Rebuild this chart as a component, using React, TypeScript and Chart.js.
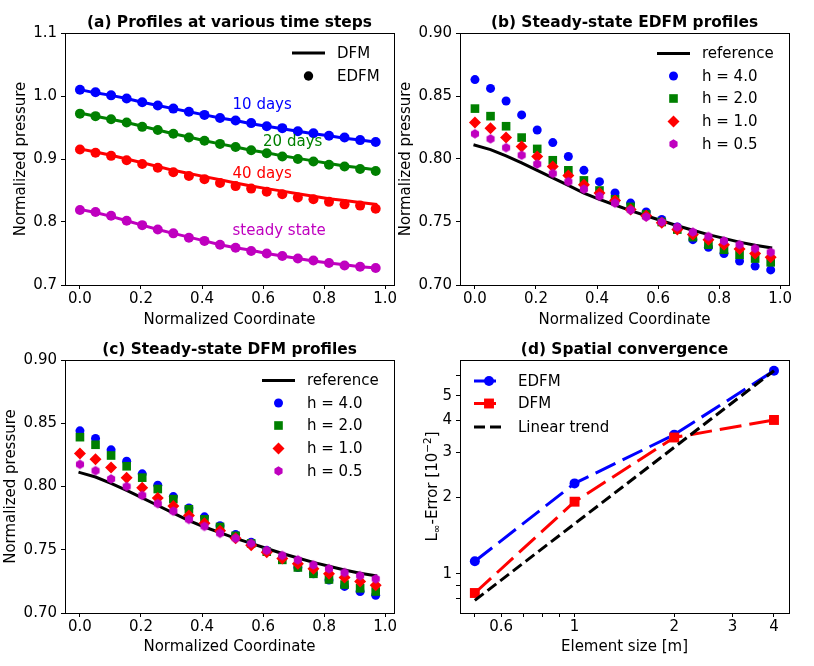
import React, { useEffect, useRef } from 'react';
import { Chart, registerables } from 'chart.js';

Chart.register(...registerables);

const FAMILY = '"DejaVu Sans", "Liberation Sans", sans-serif';
const BLUE = '#0000ff';
const GREEN = '#008000';
const RED = '#ff0000';
const MAGENTA = '#bf00bf';
const BLACK = '#000000';

// ---------- data ----------
const coordinate = [0, 0.051, 0.102, 0.153, 0.204, 0.255, 0.306, 0.357, 0.408, 0.459, 0.51, 0.561, 0.612, 0.663, 0.714, 0.765, 0.816, 0.867, 0.918, 0.969];

// (a) profiles at various time steps
const edfm10Days = [1.010, 1.006, 1.001, 0.996, 0.990, 0.985, 0.980, 0.975, 0.970, 0.965, 0.961, 0.957, 0.952, 0.949, 0.944, 0.941, 0.937, 0.934, 0.930, 0.927];
const dfm10Days = [1.010, 1.005, 1.001, 0.996, 0.990, 0.985, 0.980, 0.975, 0.970, 0.965, 0.961, 0.956, 0.952, 0.948, 0.944, 0.940, 0.937, 0.933, 0.930, 0.927];
const edfm20Days = [0.972, 0.968, 0.963, 0.958, 0.951, 0.946, 0.940, 0.934, 0.929, 0.924, 0.919, 0.914, 0.909, 0.904, 0.900, 0.896, 0.891, 0.888, 0.884, 0.881];
const dfm20Days = [0.973, 0.968, 0.963, 0.958, 0.952, 0.946, 0.940, 0.935, 0.929, 0.924, 0.919, 0.914, 0.910, 0.905, 0.901, 0.897, 0.893, 0.889, 0.886, 0.883];
const edfm40Days = [0.915, 0.910, 0.905, 0.898, 0.892, 0.886, 0.879, 0.873, 0.868, 0.862, 0.857, 0.853, 0.848, 0.844, 0.839, 0.836, 0.832, 0.828, 0.826, 0.821];
const dfm40Days = [0.916, 0.911, 0.906, 0.900, 0.894, 0.888, 0.882, 0.877, 0.872, 0.867, 0.862, 0.857, 0.853, 0.849, 0.845, 0.841, 0.837, 0.834, 0.831, 0.828];
const edfmSteady = [0.819, 0.816, 0.810, 0.802, 0.795, 0.788, 0.782, 0.775, 0.770, 0.764, 0.759, 0.754, 0.750, 0.746, 0.742, 0.739, 0.735, 0.731, 0.729, 0.727];
const dfmSteady = [0.820, 0.815, 0.809, 0.802, 0.795, 0.788, 0.782, 0.776, 0.770, 0.764, 0.759, 0.755, 0.750, 0.746, 0.742, 0.738, 0.735, 0.732, 0.729, 0.727];
const noteLabels = ['10 days', '20 days', '40 days', 'steady state'];
const noteX = [0.5, 0.6, 0.5, 0.5];
const noteY = [0.98, 0.92, 0.87, 0.78];
const noteColors = [BLUE, GREEN, RED, MAGENTA];

// (b), (c) steady-state profiles
const referenceProfile = [0.811, 0.8075, 0.8025, 0.797, 0.791, 0.785, 0.779, 0.773, 0.768, 0.7635, 0.759, 0.755, 0.751, 0.747, 0.7435, 0.740, 0.737, 0.734, 0.7315, 0.7295];
const edfmH4 = [0.863, 0.856, 0.846, 0.835, 0.823, 0.813, 0.802, 0.791, 0.782, 0.773, 0.765, 0.758, 0.752, 0.746, 0.736, 0.730, 0.725, 0.719, 0.715, 0.712];
const edfmH2 = [0.840, 0.834, 0.826, 0.817, 0.808, 0.799, 0.791, 0.783, 0.775, 0.768, 0.762, 0.756, 0.750, 0.744, 0.738, 0.732, 0.728, 0.724, 0.721, 0.718];
const edfmH1 = [0.829, 0.8245, 0.817, 0.810, 0.802, 0.794, 0.787, 0.7795, 0.773, 0.767, 0.760, 0.755, 0.7495, 0.744, 0.740, 0.736, 0.732, 0.7285, 0.725, 0.722];
const edfmH05 = [0.820, 0.816, 0.809, 0.803, 0.796, 0.7885, 0.782, 0.776, 0.7705, 0.765, 0.7595, 0.754, 0.750, 0.746, 0.742, 0.7385, 0.735, 0.732, 0.729, 0.726];
const dfmH4 = [0.844, 0.838, 0.829, 0.820, 0.810, 0.801, 0.792, 0.783, 0.776, 0.769, 0.762, 0.756, 0.7495, 0.743, 0.736, 0.731, 0.726, 0.721, 0.717, 0.714];
const dfmH2 = [0.839, 0.833, 0.8245, 0.816, 0.807, 0.798, 0.790, 0.782, 0.774, 0.768, 0.761, 0.755, 0.7485, 0.742, 0.736, 0.731, 0.7265, 0.7225, 0.7195, 0.717];
const dfmH1 = [0.826, 0.8215, 0.815, 0.807, 0.799, 0.791, 0.7845, 0.777, 0.771, 0.765, 0.759, 0.7535, 0.748, 0.743, 0.739, 0.735, 0.731, 0.728, 0.725, 0.722];
const dfmH05 = [0.8175, 0.8125, 0.806, 0.800, 0.793, 0.7865, 0.7805, 0.774, 0.7685, 0.763, 0.759, 0.755, 0.7495, 0.7455, 0.742, 0.738, 0.735, 0.732, 0.7295, 0.727];

// (d) spatial convergence
const elementSizes = [0.5, 1, 2, 4];
const edfmError = [1.118, 2.264, 3.52, 6.28];
const dfmError = [0.839, 1.918, 3.43, 4.02];
const linearTrend = [0.785, 1.57, 3.14, 6.28];

// ticks
const profileXTicks = [0, 0.2, 0.4, 0.6, 0.8, 1.0];
const panelAYTicks = [0.7, 0.8, 0.9, 1.0, 1.1];
const steadyYTicks = [0.70, 0.75, 0.80, 0.85, 0.90];
const convXTicks = [0.5, 0.6, 0.7, 0.8, 0.9, 1, 2, 3, 4];
const convXLabels = ['', '0.6', '', '', '', '1', '2', '3', '4'];
const convYTicks = [0.8, 0.9, 1, 2, 3, 4, 5, 6];
const convYLabels = ['', '', '1', '2', '3', '4', '5', ''];

// ---------- helpers ----------
const CHART_LEFT = 65;
const CHART_RIGHT = 394;
const CHART_TOP = 33;

function makeHexagon(r: number, color: string): HTMLCanvasElement {
  const c = document.createElement('canvas');
  const s = Math.ceil(2 * r + 2);
  c.width = s;
  c.height = s;
  const g = c.getContext('2d')!;
  g.fillStyle = color;
  g.beginPath();
  for (let k = 0; k < 6; k++) {
    const ang = -Math.PI / 2 + (k * Math.PI) / 3;
    const px = s / 2 + r * Math.cos(ang);
    const py = s / 2 + r * Math.sin(ang);
    if (k === 0) g.moveTo(px, py);
    else g.lineTo(px, py);
  }
  g.closePath();
  g.fill();
  return c;
}

function drawMarker(ctx: CanvasRenderingContext2D, style: string, color: string, r: number, x: number, y: number) {
  ctx.save();
  ctx.fillStyle = color;
  ctx.beginPath();
  if (style === 'circle') {
    ctx.arc(x, y, r, 0, Math.PI * 2);
  } else if (style === 'rect') {
    const s = r * Math.SQRT1_2;
    ctx.rect(x - s, y - s, 2 * s, 2 * s);
  } else if (style === 'rectRot') {
    ctx.moveTo(x, y - r);
    ctx.lineTo(x + r, y);
    ctx.lineTo(x, y + r);
    ctx.lineTo(x - r, y);
    ctx.closePath();
  } else if (style === 'hexagon') {
    for (let k = 0; k < 6; k++) {
      const ang = -Math.PI / 2 + (k * Math.PI) / 3;
      const px = x + r * Math.cos(ang);
      const py = y + r * Math.sin(ang);
      if (k === 0) ctx.moveTo(px, py);
      else ctx.lineTo(px, py);
    }
    ctx.closePath();
  }
  ctx.fill();
  ctx.restore();
}

type LegendEntry = {
  label: string;
  line?: { color: string; dash?: number[] };
  marker?: { style: string; color: string; r: number };
};

type Decor = {
  title: string;
  xTitle: string;
  yTitle: string | null;
  yTitleX: number;
  legendX0: number;
  legendX1: number;
  legendTextX: number;
  legendYs: number[];
  legend: LegendEntry[];
  notes?: boolean;
};

function drawErrorLabel(ctx: CanvasRenderingContext2D, cx: number, cy: number) {
  const parts = [
    { t: 'L', size: 15, dy: 0 },
    { t: '\u221e', size: 10.5, dy: 3 },
    { t: '-Error [10', size: 15, dy: 0 },
    { t: '\u22122', size: 10.5, dy: -6 },
    { t: ']', size: 15, dy: 0 },
  ];
  ctx.save();
  let total = 0;
  const widths: number[] = [];
  for (const p of parts) {
    ctx.font = `${p.size}px ${FAMILY}`;
    const w = ctx.measureText(p.t).width;
    widths.push(w);
    total += w;
  }
  ctx.translate(cx, cy);
  ctx.rotate(-Math.PI / 2);
  ctx.textAlign = 'left';
  ctx.textBaseline = 'alphabetic';
  ctx.fillStyle = BLACK;
  let x = -total / 2;
  parts.forEach((p, i) => {
    ctx.font = `${p.size}px ${FAMILY}`;
    ctx.fillText(p.t, x, p.dy);
    x += widths[i];
  });
  ctx.restore();
}

function decorPlugin(d: Decor) {
  return {
    id: 'decor',
    afterDraw(chart: any) {
      const ctx: CanvasRenderingContext2D = chart.ctx;
      const a = chart.chartArea;
      ctx.save();
      // frame (all four spines)
      ctx.strokeStyle = BLACK;
      ctx.lineWidth = 1;
      ctx.strokeRect(Math.round(a.left) + 0.5, Math.round(a.top) + 0.5, Math.round(a.right - a.left), Math.round(a.bottom - a.top));

      const cx = (a.left + a.right) / 2;
      const cy = (a.top + a.bottom) / 2;
      ctx.fillStyle = BLACK;
      // title
      ctx.font = `bold 15.4px ${FAMILY}`;
      ctx.textAlign = 'center';
      ctx.textBaseline = 'alphabetic';
      ctx.fillText(d.title, cx, 27);
      // x title
      ctx.font = `15px ${FAMILY}`;
      ctx.fillText(d.xTitle, cx, 324);
      // y title
      if (d.yTitle) {
        ctx.save();
        ctx.translate(d.yTitleX, cy);
        ctx.rotate(-Math.PI / 2);
        ctx.textAlign = 'center';
        ctx.fillText(d.yTitle, 0, 0);
        ctx.restore();
      } else {
        drawErrorLabel(ctx, d.yTitleX, cy);
      }
      // notes
      if (d.notes) {
        const xs = chart.scales.x;
        const ys = chart.scales.y;
        ctx.font = `15px ${FAMILY}`;
        ctx.textAlign = 'left';
        noteLabels.forEach((t, i) => {
          ctx.fillStyle = noteColors[i];
          ctx.fillText(t, xs.getPixelForValue(noteX[i]), ys.getPixelForValue(noteY[i]));
        });
      }
      // legend
      ctx.font = `15px ${FAMILY}`;
      ctx.textAlign = 'left';
      ctx.textBaseline = 'middle';
      d.legend.forEach((e, i) => {
        const y = d.legendYs[i];
        if (e.line) {
          ctx.save();
          ctx.strokeStyle = e.line.color;
          ctx.lineWidth = 3;
          ctx.setLineDash(e.line.dash || []);
          ctx.beginPath();
          ctx.moveTo(d.legendX0, y);
          ctx.lineTo(d.legendX1, y);
          ctx.stroke();
          ctx.restore();
        }
        if (e.marker) {
          drawMarker(ctx, e.marker.style, e.marker.color, e.marker.r, (d.legendX0 + d.legendX1) / 2, y);
        }
        ctx.fillStyle = BLACK;
        ctx.fillText(e.label, d.legendTextX, y + 1);
      });
      ctx.restore();
    },
  };
}

function series(ys: number[], xs: number[] = coordinate) {
  return ys.map((y, i) => ({ x: xs[i], y }));
}

function lineDs(label: string, ys: number[], color: string, order: number) {
  return {
    label,
    data: series(ys),
    showLine: true,
    borderColor: color,
    backgroundColor: color,
    borderWidth: 3,
    borderCapStyle: 'square',
    pointRadius: 0,
    order,
  };
}

function markerDs(label: string, ys: number[], color: string, style: any, radius: number, order: number) {
  return {
    label,
    data: series(ys),
    showLine: false,
    pointStyle: style,
    pointRadius: radius,
    pointBackgroundColor: color,
    pointBorderColor: color,
    pointBorderWidth: 0,
    order,
  };
}

const tickCommon = { color: BLACK, font: { family: FAMILY, size: 15 }, autoSkip: false, maxRotation: 0, minRotation: 0 };
const gridCommon = { display: true, drawOnChartArea: false, drawTicks: true, tickLength: 4, tickColor: BLACK, tickWidth: 1 };

function linearAxes(bottom: number, height: number, yMin: number, yMax: number, yTicks: number[], digits: number) {
  return {
    x: {
      type: 'linear',
      min: -0.049,
      max: 1.029,
      afterBuildTicks: (s: any) => { s.ticks = profileXTicks.map((v) => ({ value: v })); },
      afterFit: (s: any) => { s.height = height - bottom; },
      ticks: { ...tickCommon, padding: 1, callback: (v: number) => Number(v).toFixed(1) },
      grid: gridCommon,
      border: { display: false },
    },
    y: {
      type: 'linear',
      min: yMin,
      max: yMax,
      afterBuildTicks: (s: any) => { s.ticks = yTicks.map((v) => ({ value: v })); },
      afterFit: (s: any) => { s.width = CHART_LEFT; },
      ticks: { ...tickCommon, padding: 4, callback: (v: number) => Number(v).toFixed(digits) },
      grid: gridCommon,
      border: { display: false },
    },
  };
}

function baseOptions(width: number) {
  return {
    responsive: false,
    animation: false,
    devicePixelRatio: 1,
    events: [],
    layout: { padding: { left: 0, top: CHART_TOP, right: width - CHART_RIGHT, bottom: 0 } },
    plugins: { legend: { display: false }, title: { display: false }, tooltip: { enabled: false } },
  };
}

function configA(width: number, height: number) {
  return {
    type: 'scatter',
    data: {
      datasets: [
        lineDs('DFM 10 days', dfm10Days, BLUE, 8),
        markerDs('EDFM 10 days', edfm10Days, BLUE, 'circle', 5, 7),
        lineDs('DFM 20 days', dfm20Days, GREEN, 6),
        markerDs('EDFM 20 days', edfm20Days, GREEN, 'circle', 5, 5),
        lineDs('DFM 40 days', dfm40Days, RED, 4),
        markerDs('EDFM 40 days', edfm40Days, RED, 'circle', 5, 3),
        lineDs('DFM steady state', dfmSteady, MAGENTA, 2),
        markerDs('EDFM steady state', edfmSteady, MAGENTA, 'circle', 5, 1),
      ],
    },
    options: { ...baseOptions(width), scales: linearAxes(285, height, 0.7, 1.1, panelAYTicks, 1) },
    plugins: [
      decorPlugin({
        title: '(a) Profiles at various time steps',
        xTitle: 'Normalized Coordinate',
        yTitle: 'Normalized pressure',
        yTitleX: 25,
        legendX0: 292,
        legendX1: 325,
        legendTextX: 337,
        legendYs: [53, 76],
        legend: [
          { label: 'DFM', line: { color: BLACK } },
          { label: 'EDFM', marker: { style: 'circle', color: BLACK, r: 4.7 } },
        ],
        notes: true,
      }),
    ],
  };
}

function configSteady(width: number, height: number, bottom: number, title: string, vals: number[][], hex: HTMLCanvasElement) {
  return {
    type: 'scatter',
    data: {
      datasets: [
        lineDs('reference', referenceProfile, BLACK, 5),
        markerDs('h = 4.0', vals[0], BLUE, 'circle', 4.5, 4),
        markerDs('h = 2.0', vals[1], GREEN, 'rect', 6.1, 3),
        markerDs('h = 1.0', vals[2], RED, 'rectRot', 6, 2),
        markerDs('h = 0.5', vals[3], MAGENTA, hex, 4.7, 1),
      ],
    },
    options: { ...baseOptions(width), scales: linearAxes(bottom, height, 0.7, 0.9, steadyYTicks, 2) },
    plugins: [
      decorPlugin({
        title,
        xTitle: 'Normalized Coordinate',
        yTitle: 'Normalized pressure',
        yTitleX: 15,
        legendX0: 262,
        legendX1: 295,
        legendTextX: 307,
        legendYs: [53.5, 76, 98.5, 121.5, 144],
        legend: [
          { label: 'reference', line: { color: BLACK } },
          { label: 'h = 4.0', marker: { style: 'circle', color: BLUE, r: 4.5 } },
          { label: 'h = 2.0', marker: { style: 'rect', color: GREEN, r: 6.1 } },
          { label: 'h = 1.0', marker: { style: 'rectRot', color: RED, r: 6 } },
          { label: 'h = 0.5', marker: { style: 'hexagon', color: MAGENTA, r: 4.7 } },
        ],
      }),
    ],
  };
}

function configD(width: number, height: number) {
  const bottom = 286;
  return {
    type: 'scatter',
    data: {
      datasets: [
        {
          label: 'EDFM',
          data: series(edfmError, elementSizes),
          showLine: true,
          borderColor: BLUE,
          backgroundColor: BLUE,
          borderWidth: 3,
          borderDash: [22, 8],
          pointStyle: 'circle',
          pointRadius: 5,
          pointBackgroundColor: BLUE,
          pointBorderWidth: 0,
          order: 3,
        },
        {
          label: 'DFM',
          data: series(dfmError, elementSizes),
          showLine: true,
          borderColor: RED,
          backgroundColor: RED,
          borderWidth: 3,
          borderDash: [22, 8],
          pointStyle: 'rect',
          pointRadius: 7,
          pointBackgroundColor: RED,
          pointBorderWidth: 0,
          order: 2,
        },
        {
          label: 'Linear trend',
          data: series(linearTrend, elementSizes),
          showLine: true,
          borderColor: BLACK,
          backgroundColor: BLACK,
          borderWidth: 3,
          borderDash: [11, 5],
          pointRadius: 0,
          order: 1,
        },
      ],
    },
    options: {
      ...baseOptions(width),
      scales: {
        x: {
          type: 'logarithmic',
          min: 0.451,
          max: 4.44,
          afterBuildTicks: (s: any) => { s.ticks = convXTicks.map((v) => ({ value: v })); },
          afterFit: (s: any) => { s.height = height - bottom; },
          ticks: { ...tickCommon, padding: 1, callback: (_v: number, i: number) => convXLabels[i] },
          grid: gridCommon,
          border: { display: false },
        },
        y: {
          type: 'logarithmic',
          min: 0.702,
          max: 6.92,
          afterBuildTicks: (s: any) => { s.ticks = convYTicks.map((v) => ({ value: v })); },
          afterFit: (s: any) => { s.width = CHART_LEFT; },
          ticks: { ...tickCommon, padding: 4, callback: (_v: number, i: number) => convYLabels[i] },
          grid: gridCommon,
          border: { display: false },
        },
      },
    },
    plugins: [
      decorPlugin({
        title: '(d) Spatial convergence',
        xTitle: 'Element size [m]',
        yTitle: null,
        yTitleX: 41.5,
        legendX0: 79,
        legendX1: 109,
        legendTextX: 123,
        legendYs: [54, 76.5, 100],
        legend: [
          { label: 'EDFM', line: { color: BLUE, dash: [22, 8] }, marker: { style: 'circle', color: BLUE, r: 5 } },
          { label: 'DFM', line: { color: RED, dash: [22, 8] }, marker: { style: 'rect', color: RED, r: 7 } },
          { label: 'Linear trend', line: { color: BLACK, dash: [11, 5] } },
        ],
      }),
    ],
  };
}

function Panel({ left, top, width, height, make }: { left: number; top: number; width: number; height: number; make: () => any }) {
  const ref = useRef<HTMLCanvasElement>(null);
  useEffect(() => {
    const chart = new Chart(ref.current as HTMLCanvasElement, make());
    return () => chart.destroy();
  }, []);
  return (
    <canvas
      ref={ref}
      width={width}
      height={height}
      style={{ position: 'absolute', left, top, width, height, display: 'block' }}
    />
  );
}

export default function App() {
  Chart.defaults.font.family = FAMILY;
  Chart.defaults.font.size = 15;
  Chart.defaults.color = BLACK;
  return (
    <div style={{ position: 'absolute', left: 0, top: 0, width: 814, height: 666, background: '#ffffff', overflow: 'hidden' }}>
      <Panel left={0} top={0} width={404} height={333} make={() => configA(404, 333)} />
      <Panel
        left={395}
        top={0}
        width={419}
        height={333}
        make={() => configSteady(419, 333, 285, '(b) Steady-state EDFM profiles', [edfmH4, edfmH2, edfmH1, edfmH05], makeHexagon(4.7, MAGENTA))}
      />
      <Panel
        left={0}
        top={327}
        width={404}
        height={339}
        make={() => configSteady(404, 339, 286, '(c) Steady-state DFM profiles', [dfmH4, dfmH2, dfmH1, dfmH05], makeHexagon(4.7, MAGENTA))}
      />
      <Panel left={395} top={327} width={419} height={339} make={() => configD(419, 339)} />
    </div>
  );
}
